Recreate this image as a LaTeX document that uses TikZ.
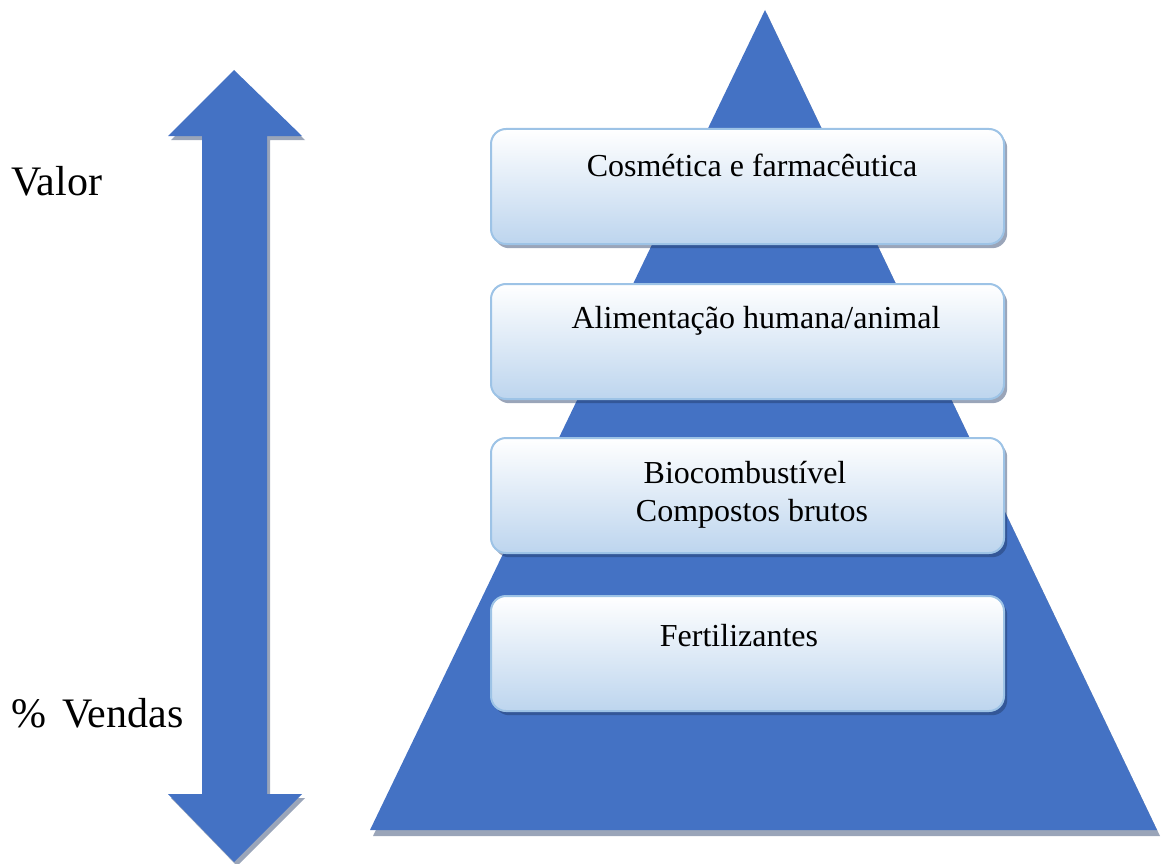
\documentclass[tikz,border=0pt]{standalone}
\usepackage{fontspec}
\setmainfont{Liberation Serif}
\definecolor{mainblue}{RGB}{68,114,196}
\definecolor{boxedge}{RGB}{157,195,230}
\definecolor{boxbottom}{RGB}{189,213,238}
\definecolor{shadowcol}{RGB}{31,56,100}
\tikzset{
  x=1pt, y=-1pt,
  shapefill/.style={fill=mainblue, draw=none},
  shadowfill/.style={fill=shadowcol, fill opacity=0.45, draw=none},
  levelbox/.style={draw=boxedge, line width=2pt, rounded corners=15pt,
    top color=white, bottom color=boxbottom, minimum width=513pt,
    minimum height=115pt, inner sep=0pt, anchor=north west},
  boxshadow/.style={shadowfill, rounded corners=15pt, minimum width=513pt,
    minimum height=115pt, inner sep=0pt, anchor=north west},
  boxtext/.style={font=\fontsize{32}{38}\selectfont, align=center, anchor=base, inner sep=0pt},
  sidetext/.style={font=\fontsize{42}{50}\selectfont, anchor=base west, inner sep=0pt}
}
\begin{document}
\begin{tikzpicture}
\useasboundingbox (0,0) rectangle (1161,864);
% double arrow shadow
\fill[shadowfill, shift={(3,4)}] (234,70) -- (302,136) -- (267,136) -- (267,794) -- (302,794)
  -- (234,862) -- (168,794) -- (202,794) -- (202,136) -- (168,136) -- cycle;
% double arrow
\fill[shapefill] (234,70) -- (302,136) -- (267,136) -- (267,794) -- (302,794)
  -- (234,862) -- (168,794) -- (202,794) -- (202,136) -- (168,136) -- cycle;
% pyramid shadow and pyramid
\fill[shadowfill] (767,14) -- (1160,836) -- (373,836) -- cycle;
\fill[shapefill] (765,10) -- (1157,830) -- (370,830) -- cycle;
% boxes shadows
\foreach \yy in {128,283,437,595}{
  \node[boxshadow] at (494,\yy+5) {};
}
% boxes
\node[levelbox] (b1) at (490,128) {};
\node[levelbox] (b2) at (490,283) {};
\node[levelbox] (b3) at (490,437) {};
\node[levelbox] (b4) at (490,595) {};
% texts
\node[boxtext] (t1) at (752,176) {Cosmética e farmacêutica};
\node[boxtext] (t2) at (756,328) {Alimentação humana/animal};
\node[boxtext] (t3a) at (745,483) {Biocombustível};
\node[boxtext] (t3b) at (752,521) {Compostos brutos};
\node[boxtext] (t4) at (739,646) {Fertilizantes};
\node[sidetext] (valor) at (11,195) {Valor};
\node[sidetext] (vendas) at (11,727) {\%\hspace{16pt}Vendas};
\end{tikzpicture}
\end{document}
